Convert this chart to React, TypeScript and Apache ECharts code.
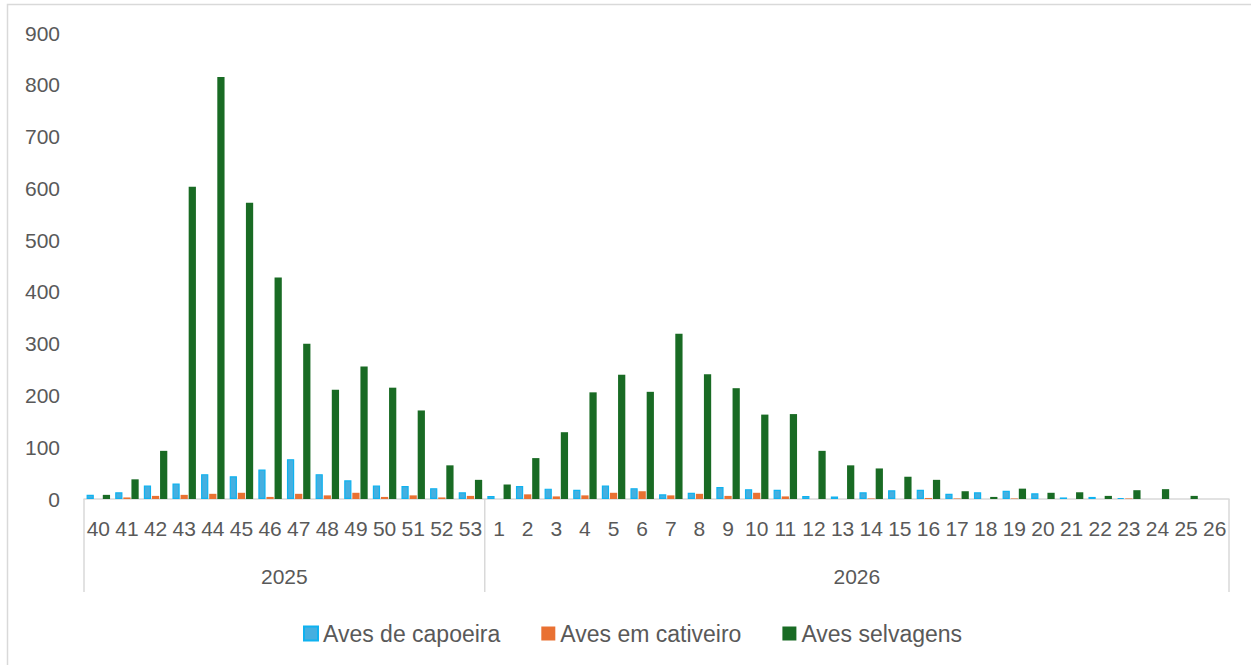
import React, { useEffect, useRef } from "react";
import * as echarts from "echarts";

const weeks2025 = ["40", "41", "42", "43", "44", "45", "46", "47", "48", "49", "50", "51", "52", "53"];
const weeks2026 = ["1", "2", "3", "4", "5", "6", "7", "8", "9", "10", "11", "12", "13", "14", "15", "16", "17", "18", "19", "20", "21", "22", "23", "24", "25", "26"];
const categories = [...weeks2025, ...weeks2026];
const years = ["2025", "2026"];

const avesCapoeira = [8, 13, 26, 30, 48, 44, 57, 77, 48, 36, 26, 25, 21, 13,
  6, 25, 20, 18, 26, 21, 9, 12, 23, 19, 18, 6, 5, 13, 17, 18, 10, 13, 16, 11, 3, 4, 2, 0, 0, 0];
const avesCativeiro = [0, 3, 6, 8, 10, 12, 4, 10, 7, 12, 4, 7, 3, 6,
  0, 9, 5, 7, 12, 15, 7, 10, 6, 12, 5, 0, 0, 1, 0, 2, 1, 0, 1, 0, 0, 0, 1, 0, 0, 0];
const avesSelvagens = [8, 38, 93, 603, 815, 572, 428, 300, 211, 256, 215, 171, 65, 37,
  28, 79, 129, 206, 240, 207, 319, 241, 214, 163, 164, 93, 65, 59, 43, 37, 15, 4, 20, 12, 13, 6, 17, 19, 6, 0];

const seriesNames = ["Aves de capoeira", "Aves em cativeiro", "Aves selvagens"];
const yTicks = { min: 0, max: 900, interval: 100 };

const FONT = "'Liberation Sans', Arial, sans-serif";
const TEXT = "#595959";
const LINE = "#d9d9d9";

export default function App() {
  const ref = useRef<HTMLDivElement>(null);
  useEffect(() => {
    if (!ref.current) return;
    const chart = echarts.init(ref.current, undefined, { renderer: "svg" });
    const blueData = avesCapoeira.map((v) =>
      v === 0 ? { value: v, itemStyle: { borderWidth: 0 } } : v
    );
    chart.setOption({
      animation: false,
      backgroundColor: "#ffffff",
      textStyle: { fontFamily: FONT },
      grid: { left: 84, right: 22, top: 33, bottom: 166, containLabel: false },
      legend: {
        data: seriesNames,
        icon: "rect",
        left: 298,
        top: 617,
        itemWidth: 14,
        itemHeight: 14,
        itemGap: 41,
        textStyle: { fontSize: 23, color: TEXT, fontFamily: FONT },
      },
      xAxis: {
        type: "category",
        data: categories,
        axisLine: { lineStyle: { color: LINE, width: 1.5 } },
        axisTick: { show: false },
        axisLabel: { interval: 0, fontSize: 21, color: TEXT, margin: 19, fontFamily: FONT },
      },
      yAxis: {
        type: "value",
        min: yTicks.min,
        max: yTicks.max,
        interval: yTicks.interval,
        axisLine: { show: false },
        axisTick: { show: false },
        splitLine: { show: false },
        axisLabel: { fontSize: 21, color: TEXT, margin: 24, fontFamily: FONT },
      },
      series: [
        {
          name: seriesNames[0],
          type: "bar",
          data: blueData,
          barGap: "12%",
          barCategoryGap: "18%",
          itemStyle: { color: "#45afe0", borderColor: "#0fb2f0", borderWidth: 1.2 },
        },
        {
          name: seriesNames[1],
          type: "bar",
          data: avesCativeiro,
          barGap: "12%",
          barCategoryGap: "18%",
          itemStyle: { color: "#e97132" },
        },
        {
          name: seriesNames[2],
          type: "bar",
          data: avesSelvagens,
          barGap: "12%",
          barCategoryGap: "18%",
          itemStyle: { color: "#196b24" },
        },
      ],
    });

    const x0 = chart.convertToPixel({ xAxisIndex: 0 }, 0) as number;
    const x1 = chart.convertToPixel({ xAxisIndex: 0 }, 1) as number;
    const bw = x1 - x0;
    const n = categories.length;
    const split = weeks2025.length;
    const left = x0 - bw / 2;
    const mid = left + bw * split;
    const right = left + bw * n;
    const yAxisPx = chart.convertToPixel({ yAxisIndex: 0 }, 0) as number;
    const yBottom = 592;
    const yYear = 576;

    chart.setOption({
      graphic: [
        {
          type: "rect",
          shape: { x: 7.5, y: 4.5, width: 1300, height: 700 },
          style: { fill: "none", stroke: LINE, lineWidth: 1.5 },
          silent: true,
        },
        ...[left, mid, right].map((x) => ({
          type: "line",
          shape: { x1: x, y1: yAxisPx, x2: x, y2: yBottom },
          style: { stroke: LINE, lineWidth: 1.5 },
          silent: true,
        })),
        {
          type: "text",
          x: (left + mid) / 2,
          y: yYear,
          style: { text: years[0], fontSize: 21, fill: TEXT, fontFamily: FONT, align: "center", verticalAlign: "middle" },
        },
        {
          type: "text",
          x: (mid + right) / 2,
          y: yYear,
          style: { text: years[1], fontSize: 21, fill: TEXT, fontFamily: FONT, align: "center", verticalAlign: "middle" },
        },
      ],
    });

    return () => chart.dispose();
  }, []);
  return (
    <div
      ref={ref}
      style={{ position: "absolute", left: 0, top: 0, width: 1251, height: 665 }}
    />
  );
}
